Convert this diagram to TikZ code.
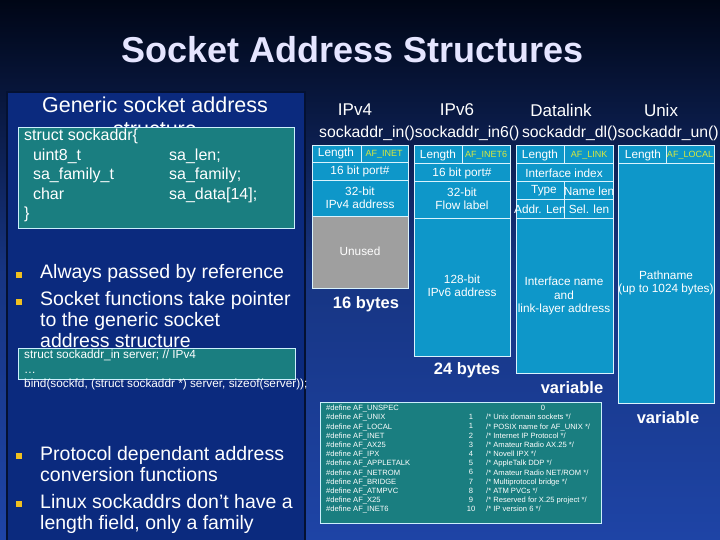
\documentclass[tikz,border=0pt]{standalone}
\usepackage{fontspec}
\setmainfont{Liberation Sans}
\begin{document}
\begin{tikzpicture}[x=1pt,y=-1pt,
  cell/.style={draw=white!85!cyan,line width=0.8pt,fill=cyanbox},
  ct/.style={text=white,font=\fontsize{11.8}{13.5}\selectfont,align=center,inner sep=0pt},
  af/.style={text=afyellow,font=\fontsize{9}{10}\selectfont,inner sep=0pt},
  hd/.style={text=white,font=\fontsize{17}{20}\selectfont,inner sep=0pt},
  sz/.style={text=white,font=\bfseries\fontsize{16.5}{19}\selectfont,inner sep=0pt},
  bul/.style={fill=bulyellow,minimum size=6pt,inner sep=0pt},
  btxt/.style={text=white,font=\fontsize{19.5}{21}\selectfont,align=left,anchor=north west,inner sep=0pt},
  teal/.style={draw=white!80!cyan,line width=0.8pt,fill=tealbox},
  df/.style={text=white,font=\fontsize{7.6}{9.2}\selectfont,align=left,anchor=north west,inner sep=0pt}]
\definecolor{cyanbox}{HTML}{0E97C9}
\definecolor{afyellow}{HTML}{D8E83C}
\definecolor{bulyellow}{HTML}{F0C020}
\definecolor{tealbox}{HTML}{1A7E80}
\definecolor{bgtop}{HTML}{000616}
\definecolor{bgbot}{HTML}{1E44A6}
\definecolor{panel}{HTML}{0B2A7E}
\useasboundingbox (0,0) rectangle (720,540);
\shade[top color=bgtop,bottom color=bgbot,middle color=bgbot!75!bgtop] (0,0) rectangle (720,540);
\fill[panel] (7,92) rectangle (305,540);
\draw[black!60!panel,line width=1.5pt] (7,540) -- (7,92) -- (305,92) -- (305,540);
\node[text=white!90!blue,font=\bfseries\fontsize{36}{40}\selectfont,inner sep=0pt] (title) at (353,50) {Socket Address Structures};
% generic
\node[text=white,font=\fontsize{21.5}{24}\selectfont,inner sep=0pt] (gen) at (155,105) {Generic socket address};
\node[text=white,font=\fontsize{21.5}{24}\selectfont,inner sep=0pt] (gen2) at (155,130) {structure};
\node[teal,minimum width=276,minimum height=101,anchor=north west] (sbox) at (18,127) {};
\node[text=white,font=\fontsize{16}{19.5}\selectfont,align=left,anchor=north west,inner sep=0pt] (s1) at (24,129) {struct sockaddr\{\\\ \ uint8\_t\\\ \ sa\_family\_t\\\ \ char\\\}};
\node[text=white,font=\fontsize{16}{19.5}\selectfont,align=left,anchor=north west,inner sep=0pt] (s2) at (169,148.5) {sa\_len;\\sa\_family;\\sa\_data[14];};
% bullets
\node[bul] (b1) at (19,275) {};
\node[bul] (b2) at (19,302) {};
\node[btxt] (t1) at (40,264) {Always passed by reference};
\node[btxt] (t2) at (40,291) {Socket functions take pointer\\to the generic socket\\address structure};
\node[teal,minimum width=277,minimum height=31,anchor=north west] (cbox) at (18,348) {};
\node[text=white,font=\fontsize{11.8}{14.5}\selectfont,align=left,anchor=north west,inner sep=0pt] (code) at (24,350) {struct sockaddr\_in server; // IPv4\\\ldots\\bind(sockfd, (struct sockaddr *) server, sizeof(server));};
\node[bul] (b3) at (19,456) {};
\node[bul] (b4) at (19,504) {};
\node[btxt] (t3) at (40,446) {Protocol dependant address\\conversion functions};
\node[btxt] (t4) at (40,494) {Linux sockaddrs don't have a\\length field, only a family};
% headers
\node[hd] (h4) at (355,110) {IPv4};
\node[hd] (h6) at (457,110) {IPv6};
\node[hd] (hd) at (561,110) {Datalink};
\node[hd] (hu) at (661,110) {Unix};
\node[text=white,font=\fontsize{15.8}{18}\selectfont,inner sep=0pt] (names) at (519,133) {sockaddr\_in()sockaddr\_in6()\,sockaddr\_dl()sockaddr\_un()};
% IPv4
\draw[cell] (312,145) rectangle (361,162); \draw[cell] (361,145) rectangle (408,162);
\draw[cell] (312,162) rectangle (408,180);
\draw[cell] (312,180) rectangle (408,216);
\draw[cell,fill=gray!75] (312,216) rectangle (408,288);
\node[ct] (a1) at (336,153) {Length}; \node[af] (a2) at (384,154) {AF\_INET};
\node[ct] (a3) at (360,171) {16 bit port\#};
\node[ct] (a4) at (360,198) {32-bit\\IPv4 address};
\node[ct] (a5) at (360,251) {Unused};
\node[sz] (s16) at (366,304) {16 bytes};
% IPv6
\draw[cell] (414,145) rectangle (462,163); \draw[cell] (462,145) rectangle (510,163);
\draw[cell] (414,163) rectangle (510,181);
\draw[cell] (414,181) rectangle (510,218);
\draw[cell] (414,218) rectangle (510,356);
\node[ct] (c1) at (438,155) {Length}; \node[af] (c2) at (486,155) {AF\_INET6};
\node[ct] (c3) at (462,173) {16 bit port\#};
\node[ct] (c4) at (462,199) {32-bit\\Flow label};
\node[ct] (c5) at (462,286) {128-bit\\IPv6 address};
\node[sz] (s24) at (467,370) {24 bytes};
% Datalink
\draw[cell] (516,145) rectangle (564,163); \draw[cell] (564,145) rectangle (613,163);
\draw[cell] (516,163) rectangle (613,181);
\draw[cell] (516,181) rectangle (564,199); \draw[cell] (564,181) rectangle (613,199);
\draw[cell] (516,199) rectangle (564,218); \draw[cell] (564,199) rectangle (613,218);
\draw[cell] (516,218) rectangle (613,373);
\node[ct] (d1) at (540,155) {Length}; \node[af] (d2) at (589,155) {AF\_LINK};
\node[ct] (d3) at (564,173) {Interface index};
\node[ct] (d4) at (544,191) {Type}; \node[ct] (d5) at (589,191) {Name len};
\node[ct] (d6) at (540,209) {Addr. Len}; \node[ct] (d7) at (589,209) {Sel. len};
\node[ct] (d8) at (564,296) {Interface name\\and\\link-layer address};
\node[sz] (sv1) at (572,388) {variable};
% Unix
\draw[cell] (618,145) rectangle (666,163); \draw[cell] (666,145) rectangle (714,163);
\draw[cell] (618,163) rectangle (714,403);
\node[ct] (u1) at (643,155) {Length}; \node[af] (u2) at (690,155) {AF\_LOCAL};
\node[ct] (u3) at (666,283) {Pathname\\(up to 1024 bytes)};
\node[sz] (sv2) at (668,418) {variable};
% defines
\node[teal,minimum width=281,minimum height=121,anchor=north west] (dbox) at (320,402) {};
\node[df] (dl) at (326,405) {\#define AF\_UNSPEC\\\#define AF\_UNIX\\\#define AF\_LOCAL\\\#define AF\_INET\\\#define AF\_AX25\\\#define AF\_IPX\\\#define AF\_APPLETALK\\\#define AF\_NETROM\\\#define AF\_BRIDGE\\\#define AF\_ATMPVC\\\#define AF\_X25\\\#define AF\_INET6};
\node[df,align=center,anchor=north] (dn) at (471,414.2) {1\\1\\2\\3\\4\\5\\6\\7\\8\\9\\10};
\node[df,anchor=north] (d0) at (543,405) {0};
\node[df] (dc) at (486,414.2) {/* Unix domain sockets */\\/* POSIX name for AF\_UNIX */\\/* Internet IP Protocol */\\/* Amateur Radio AX.25 */\\/* Novell IPX */\\/* AppleTalk DDP */\\/* Amateur Radio NET/ROM */\\/* Multiprotocol bridge */\\/* ATM PVCs */\\/* Reserved for X.25 project */\\/* IP version 6 */};
\end{tikzpicture}
\end{document}
